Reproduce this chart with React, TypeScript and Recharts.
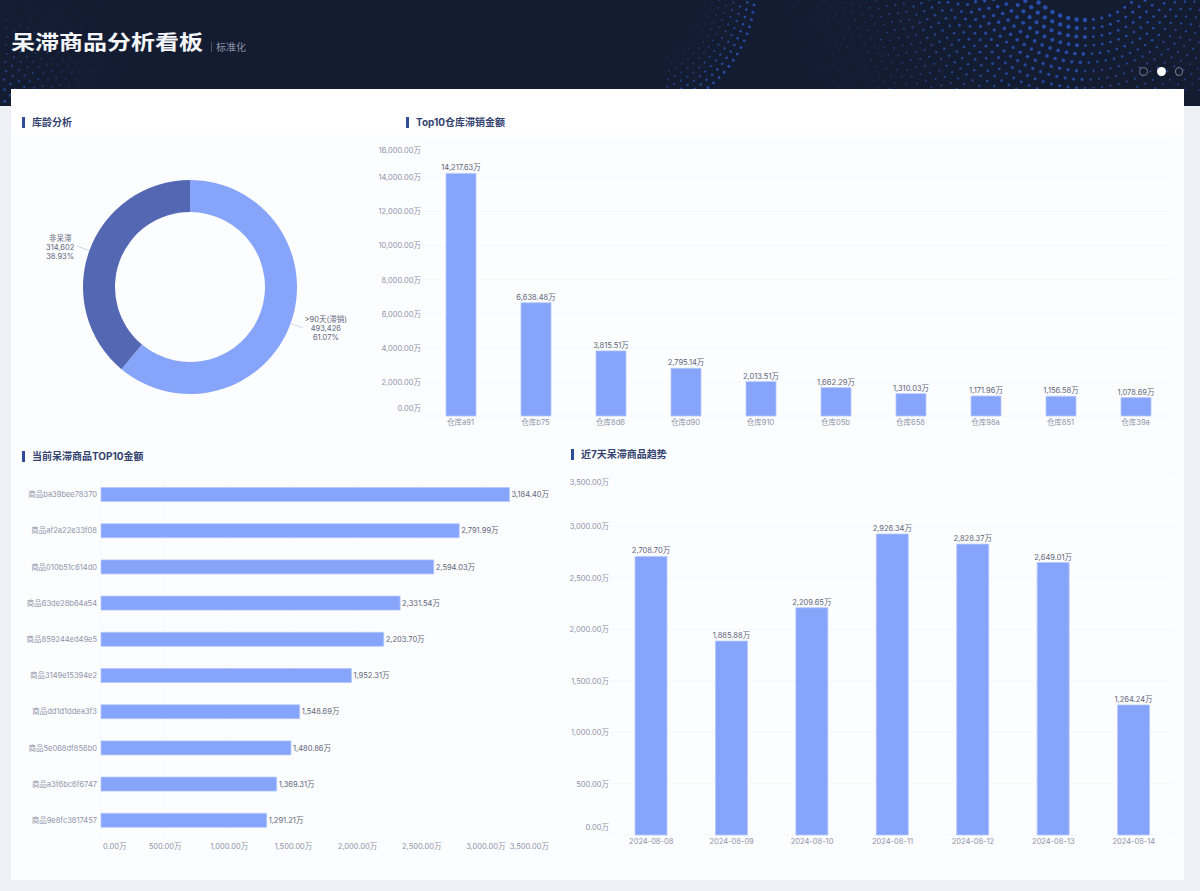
import React from 'react';
import { BarChart, Bar, XAxis, YAxis, CartesianGrid, LabelList, PieChart, Pie, Cell } from 'recharts';

const ageNames = ['>90天(滞销)', '非呆滞'];
const ageValues = [493426, 314602];
const agePercents = ['61.07%', '38.93%'];

const warehouseNames = ['仓库a91', '仓库b75', '仓库8d6', '仓库d90', '仓库910', '仓库05b', '仓库658', '仓库98a', '仓库851', '仓库39a'];
const warehouseValues = [14217.63, 6638.48, 3815.51, 2795.14, 2013.51, 1662.29, 1310.03, 1171.96, 1156.58, 1078.69];
const warehouseTicks = [0, 2000, 4000, 6000, 8000, 10000, 12000, 14000, 16000];

const productNames = ['商品ba39bee78370', '商品af2a22e33f08', '商品010b51c614d0', '商品63de28b64a54', '商品859244ed49e5', '商品3149e15394e2', '商品dd1d1ddea3f3', '商品5e068df856b0', '商品a3f6bc6f6747', '商品9e8fc3817457'];
const productValues = [3184.4, 2791.99, 2594.03, 2331.54, 2203.7, 1952.31, 1548.69, 1480.86, 1369.31, 1291.21];
const productTicks = [0, 500, 1000, 1500, 2000, 2500, 3000, 3500];

const trendDates = ['2024-08-08', '2024-08-09', '2024-08-10', '2024-08-11', '2024-08-12', '2024-08-13', '2024-08-14'];
const trendValues = [2708.7, 1885.88, 2209.65, 2926.34, 2828.37, 2649.01, 1264.24];
const trendTicks = [0, 500, 1000, 1500, 2000, 2500, 3000, 3500];

const FONT = 'Inter, "Noto Sans CJK SC", sans-serif';
const BAR = '#87a4fb';
const BAR_EDGE = '#b4c8ff';
const DARK_SLICE = '#5467b3';
const AXIS_TEXT = '#8f93a8';
const LABEL_TEXT = '#5f6478';
const GRID = '#f0f2f7';
const TEXT_SIZE = 7.5;

const wan = (v: number) =>
  v.toLocaleString('en-US', { minimumFractionDigits: 2, maximumFractionDigits: 2 }) + '万';

const warehouseRows = warehouseNames.map((name, i) => ({ name, value: warehouseValues[i] }));
const productRows = productNames.map((name, i) => ({ name, value: productValues[i] }));
const trendRows = trendDates.map((name, i) => ({ name, value: trendValues[i] }));
const ageRows = ageNames.map((name, i) => ({ name, value: ageValues[i], percent: agePercents[i] }));

function HeaderArt() {
  const dots: React.ReactNode[] = [];
  // wave around the dark hole at the top right
  const cx = 1085;
  const cy = -50;
  for (let ring = 0; ring < 40; ring++) {
    const r = 70 + ring * 8.5;
    const count = Math.round((r * Math.PI * 2) / 8.5);
    for (let k = 0; k < count; k++) {
      const a = (k / count) * Math.PI * 2 + ring * 0.05;
      const x = cx + r * Math.cos(a);
      const y = cy + r * Math.sin(a);
      if (y < -3 || y > 92 || x < 770) continue;
      const fade = Math.max(0, 1 - ring / 38);
      const side = x > cx ? 0.6 : 1;
      const rad = 0.35 + 1.9 * fade * fade * side;
      dots.push(<circle key={`a${ring}-${k}`} cx={x} cy={y} r={rad} fill="#2a52b5" opacity={0.2 + 0.75 * fade} />);
    }
  }
  // middle wave falling from the top edge
  for (let ring = 0; ring < 9; ring++) {
    const r = 125 - ring * 7;
    const count = Math.round((r * Math.PI * 2) / 7.5);
    for (let k = 0; k < count; k++) {
      const a = (k / count) * Math.PI * 2 + ring * 0.04;
      const x = 630 + r * Math.cos(a);
      const y = -10 + r * Math.sin(a);
      if (y < 0 || y > 90 || x < 665) continue;
      const fade = 1 - ring / 9;
      dots.push(<circle key={`c${ring}-${k}`} cx={x} cy={y} r={0.4 + 1.0 * fade} fill="#2a52b5" opacity={0.2 + 0.7 * fade} />);
    }
  }
  // fan in the top-left corner
  for (let ring = 0; ring < 26; ring++) {
    const r = 30 + ring * 8;
    const count = Math.round((r * Math.PI) / 2 / 8);
    for (let k = 0; k <= count; k++) {
      const a = (k / count) * (Math.PI / 2);
      const x = r * Math.sin(a) - 25;
      const y = 125 - r * Math.cos(a);
      if (y < 0 || y > 106 || x < -3) continue;
      const fade = 1 - ring / 26;
      dots.push(<circle key={`b${ring}-${k}`} cx={x} cy={y} r={0.4 + 1.2 * fade * fade} fill="#2a52b5" opacity={0.18 + 0.6 * fade * fade} />);
    }
  }
  return (
    <svg width={1200} height={106} style={{ position: 'absolute', left: 0, top: 0 }}>
      {dots}
    </svg>
  );
}

function SectionTitle({ x, y, text }: { x: number; y: number; text: string }) {
  return (
    <>
      <div style={{ position: 'absolute', left: x, top: y - 5, width: 3, height: 11, background: '#2f4b9b' }} />
      <div
        style={{
          position: 'absolute',
          left: x + 10,
          top: y - 8,
          height: 16,
          lineHeight: '16px',
          fontSize: 10,
          fontWeight: 700,
          color: '#34436f',
          fontFamily: FONT,
          whiteSpace: 'nowrap',
        }}
      >
        {text}
      </div>
    </>
  );
}

function YTick(props: any) {
  const { x, y, payload, index, visibleTicksCount } = props;
  let shift = 0.5;
  if (index === 0) shift = -7.5;
  if (index === visibleTicksCount - 1) shift = 7.5;
  return (
    <text x={x} y={y + shift} textAnchor="end" dominantBaseline="central" fontSize={TEXT_SIZE} fill={AXIS_TEXT} fontFamily={FONT}>
      {wan(payload.value)}
    </text>
  );
}

function CategoryBottomTick(props: any) {
  const { x, y, payload } = props;
  return (
    <text x={x} y={y + 0.5} textAnchor="middle" dominantBaseline="central" fontSize={TEXT_SIZE} fill={AXIS_TEXT} fontFamily={FONT}>
      {payload.value}
    </text>
  );
}

function ProductNameTick(props: any) {
  const { x, y, payload } = props;
  return (
    <text x={x} y={y} textAnchor="end" dominantBaseline="central" fontSize={TEXT_SIZE} fill={AXIS_TEXT} fontFamily={FONT}>
      {payload.value}
    </text>
  );
}

function ValueBottomTick(props: any) {
  const { x, y, payload, index, visibleTicksCount } = props;
  let anchor = 'middle';
  let dx = 0;
  if (index === 0) {
    anchor = 'start';
    dx = 2;
  }
  if (index === visibleTicksCount - 1) {
    anchor = 'end';
    dx = -1;
  }
  return (
    <text x={x + dx} y={y} textAnchor={anchor} dominantBaseline="central" fontSize={TEXT_SIZE} fill={AXIS_TEXT} fontFamily={FONT}>
      {wan(payload.value)}
    </text>
  );
}

const labelStyle = { fontSize: TEXT_SIZE, fill: LABEL_TEXT, fontFamily: FONT };

function AgeLabel(props: any) {
  const { cx, cy, midAngle, outerRadius, index } = props;
  const rad = (midAngle * Math.PI) / 180;
  const cos = Math.cos(rad);
  const sin = Math.sin(rad);
  const x0 = cx + outerRadius * cos;
  const y0 = cy - outerRadius * sin;
  const x1 = cx + (outerRadius + 13) * cos;
  const y1 = cy - (outerRadius + 13) * sin;
  const right = cos >= 0;
  const tx = x1 + (right ? 23 : -17);
  const ty = y1 + (right ? 0 : 1);
  const row = ageRows[index];
  return (
    <g>
      <line x1={x0} y1={y0} x2={x1} y2={y1} stroke="#c6cde4" strokeWidth={0.8} />
      <text textAnchor="middle" fontSize={TEXT_SIZE} fill={LABEL_TEXT} fontFamily={FONT}>
        <tspan x={tx} y={ty - 6}>{row.name}</tspan>
        <tspan x={tx} y={ty + 3}>{row.value.toLocaleString('en-US')}</tspan>
        <tspan x={tx} y={ty + 12}>{row.percent}</tspan>
      </text>
    </g>
  );
}

export default function App() {
  return (
    <div style={{ position: 'fixed', left: 0, top: 0, width: 1200, height: 891, overflow: 'hidden', background: '#eff0f5', fontFamily: FONT }}>
      <div style={{ position: 'absolute', left: 0, top: 0, width: 1200, height: 106, background: '#131c30' }} />
      <HeaderArt />
      <div style={{ position: 'absolute', left: 11, top: 27, fontSize: 20, lineHeight: '30px', fontWeight: 700, color: '#f4f6fb', fontFamily: '"Noto Sans CJK SC", sans-serif', whiteSpace: 'nowrap', transform: 'scaleX(1.2)', transformOrigin: 'left center' }}>
        呆滞商品分析看板
      </div>
      <div style={{ position: 'absolute', left: 211, top: 42, width: 1, height: 10, background: '#4a5268' }} />
      <div style={{ position: 'absolute', left: 216, top: 39, fontSize: 10, lineHeight: '16px', color: '#8d93a8', fontFamily: '"Noto Sans CJK SC", sans-serif', whiteSpace: 'nowrap' }}>
        标准化
      </div>
      <div style={{ position: 'absolute', left: 1139, top: 67, width: 6.6, height: 6.6, borderRadius: '50%', border: '1.2px solid #777d8c' }} />
      <div style={{ position: 'absolute', left: 1156.5, top: 66.7, width: 9.4, height: 9.4, borderRadius: '50%', background: '#ffffff' }} />
      <div style={{ position: 'absolute', left: 1174.5, top: 67, width: 6.6, height: 6.6, borderRadius: '50%', border: '1.2px solid #777d8c' }} />

      <div style={{ position: 'absolute', left: 11, top: 89, width: 1173, height: 791, background: '#ffffff' }} />
      <div style={{ position: 'absolute', left: 11, top: 135, width: 1173, height: 745, background: '#fcfdff' }} />

      <SectionTitle x={22} y={122} text="库龄分析" />
      <SectionTitle x={406} y={122} text="Top10仓库滞销金额" />
      <SectionTitle x={22} y={456} text="当前呆滞商品TOP10金额" />
      <SectionTitle x={571} y={454} text="近7天呆滞商品趋势" />

      <div style={{ position: 'absolute', left: 20, top: 140, width: 360, height: 294 }}>
        <PieChart width={360} height={294} margin={{ top: 0, right: 0, bottom: 0, left: 0 }}>
          <Pie
            data={ageRows}
            dataKey="value"
            nameKey="name"
            cx={170}
            cy={147}
            innerRadius={75}
            outerRadius={107}
            startAngle={90}
            endAngle={-270}
            stroke="none"
            isAnimationActive={false}
            labelLine={false}
            label={AgeLabel}
          >
            <Cell fill={BAR} />
            <Cell fill={DARK_SLICE} />
          </Pie>
        </PieChart>
      </div>

      <div style={{ position: 'absolute', left: 370, top: 135, width: 810, height: 295 }}>
        <BarChart width={810} height={295} data={warehouseRows} margin={{ top: 8, right: 7, bottom: 0, left: 0 }}>
          <CartesianGrid vertical={false} stroke={GRID} strokeDasharray="2 2" />
          <XAxis dataKey="name" height={14} interval={0} axisLine={false} tickLine={false} tickSize={0} tickMargin={6} tick={CategoryBottomTick} />
          <YAxis width={53} domain={[0, 16000]} ticks={warehouseTicks} interval={0} axisLine={false} tickLine={false} tickSize={0} tickMargin={2} tick={YTick} />
          <Bar dataKey="value" barSize={30} fill={BAR} stroke={BAR_EDGE} strokeWidth={0.8} isAnimationActive={false}>
            <LabelList dataKey="value" position="top" offset={3} formatter={wan as any} style={labelStyle} />
          </Bar>
        </BarChart>
      </div>

      <div style={{ position: 'absolute', left: 20, top: 470, width: 540, height: 385 }}>
        <BarChart layout="vertical" width={540} height={385} data={productRows} margin={{ top: 6.5, right: 10, bottom: 0, left: 0 }}>
          <CartesianGrid horizontal={false} stroke={GRID} strokeDasharray="2 2" />
          <XAxis type="number" height={16.5} domain={[0, 3500]} ticks={productTicks} interval={0} axisLine={false} tickLine={false} tickSize={0} tickMargin={8} tick={ValueBottomTick} />
          <YAxis type="category" dataKey="name" width={81} interval={0} axisLine={false} tickLine={false} tickSize={0} tickMargin={4} tick={ProductNameTick} />
          <Bar dataKey="value" barSize={14} fill={BAR} stroke={BAR_EDGE} strokeWidth={0.8} isAnimationActive={false}>
            <LabelList dataKey="value" position="right" offset={2} formatter={wan as any} style={labelStyle} />
          </Bar>
        </BarChart>
      </div>

      <div style={{ position: 'absolute', left: 560, top: 468, width: 620, height: 382 }}>
        <BarChart width={620} height={382} data={trendRows} margin={{ top: 7, right: 6, bottom: 0, left: 0 }}>
          <CartesianGrid vertical={false} stroke={GRID} strokeDasharray="2 2" />
          <XAxis dataKey="name" height={15} interval={0} axisLine={false} tickLine={false} tickSize={0} tickMargin={6} tick={CategoryBottomTick} />
          <YAxis width={51} domain={[0, 3500]} ticks={trendTicks} interval={0} axisLine={false} tickLine={false} tickSize={0} tickMargin={2} tick={YTick} />
          <Bar dataKey="value" barSize={32} fill={BAR} stroke={BAR_EDGE} strokeWidth={0.8} isAnimationActive={false}>
            <LabelList dataKey="value" position="top" offset={3} formatter={wan as any} style={labelStyle} />
          </Bar>
        </BarChart>
      </div>
    </div>
  );
}
